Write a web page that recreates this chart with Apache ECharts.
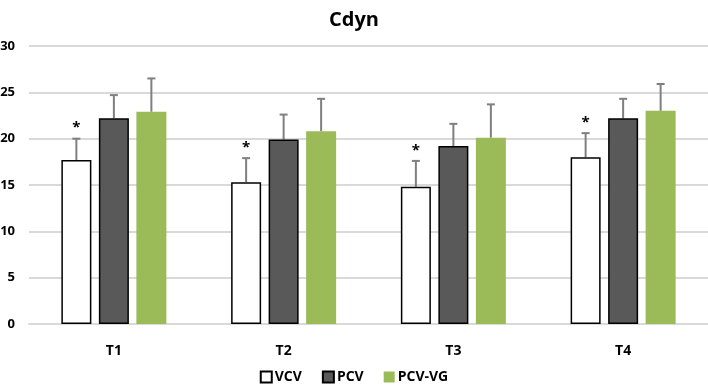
<!DOCTYPE html>
<html>
<head>
    <meta charset="utf-8">
    <title>Cdyn</title>
    <style>
        *{
            margin: 0px;
            padding: 0px;
            box-sizing: border-box;
        }
        html, body, #chart{
            width:100%;
            height:100%;
            overflow: hidden;
            background: #fff;
        }
    </style>
</head>
<body>
    <div id="chart"></div>
    <script src="https://cdn.jsdelivr.net/npm/echarts@6/dist/echarts.min.js"></script>
    <script>
        var categories = ['T1', 'T2', 'T3', 'T4'];
        var yTicks = [0, 5, 10, 15, 20, 25, 30];

        // mean values
        var vcv = [17.7, 15.3, 14.8, 18.0];
        var pcv = [22.2, 19.9, 19.2, 22.2];
        var pcvVg = [22.9, 20.8, 20.1, 23.0];

        // standard deviations (upper error bar only)
        var vcvErr = [2.3, 2.6, 2.8, 2.6];
        var pcvErr = [2.5, 2.7, 2.4, 2.1];
        var pcvVgErr = [3.6, 3.5, 3.6, 2.9];

        // significance marks over VCV
        var vcvMark = ['*', '*', '*', '*'];

        var BAR_W = 30;
        var font = '"Open Sans", "Noto Sans", sans-serif';

        function errData(means, errs, marks) {
            return means.map(function (m, i) {
                return [i, m + errs[i], m, marks ? marks[i] : ''];
            });
        }

        function errSeries(name, means, errs, offset, marks) {
            return {
                name: name,
                type: 'custom',
                z: 1,
                data: errData(means, errs, marks),
                renderItem: function (params, api) {
                    var top = api.coord([api.value(0), api.value(1)]);
                    var base = api.coord([api.value(0), api.value(2)]);
                    var x = top[0] + offset;
                    var style = { stroke: '#7f7f7f', lineWidth: 2 };
                    var children = [
                        { type: 'line', shape: { x1: x, y1: base[1], x2: x, y2: top[1] }, style: style },
                        { type: 'line', shape: { x1: x - 4, y1: top[1], x2: x + 4, y2: top[1] }, style: style }
                    ];
                    var mark = api.value(3);
                    if (mark) {
                        children.push({
                            type: 'text',
                            style: {
                                text: mark, x: x, y: top[1] - 3,
                                align: 'center', verticalAlign: 'bottom',
                                fill: '#000', font: 'bold 15px ' + font
                            }
                        });
                    }
                    return { type: 'group', children: children };
                }
            };
        }

        var chart = echarts.init(document.getElementById('chart'));

        chart.setOption({
            animation: false,
            title: {
                text: 'Cdyn',
                left: 'center',
                top: 5,
                textStyle: { fontFamily: font, fontWeight: 'bold', fontSize: 20, color: '#000' }
            },
            legend: {
                bottom: 1,
                left: 'center',
                data: ['VCV', 'PCV', 'PCV-VG'],
                icon: 'rect',
                itemWidth: 11,
                itemHeight: 11,
                itemGap: 20,
                textStyle: { fontFamily: font, fontWeight: 'bold', fontSize: 14, color: '#000', padding: [0, 0, 0, -2] }
            },
            grid: { left: 29, right: 0, top: 46, bottom: 66, containLabel: false, outerBoundsMode: 'none' },
            xAxis: {
                type: 'category',
                data: categories,
                axisTick: { show: false },
                axisLine: { lineStyle: { color: '#d9d9d9', width: 2 } },
                axisLabel: { margin: 20, color: '#000', fontFamily: font, fontWeight: 'bold', fontSize: 14 }
            },
            yAxis: {
                type: 'value',
                min: yTicks[0],
                max: yTicks[yTicks.length - 1],
                interval: 5,
                axisLine: { show: false },
                axisTick: { show: false },
                splitLine: { lineStyle: { color: '#d9d9d9', width: 2 } },
                axisLabel: { margin: 14, color: '#000', fontFamily: font, fontWeight: 'bold', fontSize: 13 }
            },
            series: [
                {
                    name: 'VCV', type: 'bar', data: vcv, barWidth: BAR_W, barGap: '25%', z: 2,
                    itemStyle: { color: '#ffffff', borderColor: '#000', borderWidth: 1.5 }
                },
                {
                    name: 'PCV', type: 'bar', data: pcv, barWidth: BAR_W, barGap: '25%', z: 2,
                    itemStyle: { color: '#595959', borderColor: '#000', borderWidth: 1.5 }
                },
                {
                    name: 'PCV-VG', type: 'bar', data: pcvVg, barWidth: BAR_W, barGap: '25%', z: 2,
                    itemStyle: { color: '#9bbb59' }
                },
                errSeries('VCV err', vcv, vcvErr, -37.5, vcvMark),
                errSeries('PCV err', pcv, pcvErr, 0),
                errSeries('PCV-VG err', pcvVg, pcvVgErr, 37.5)
            ]
        });
    </script>
</body>
</html>
